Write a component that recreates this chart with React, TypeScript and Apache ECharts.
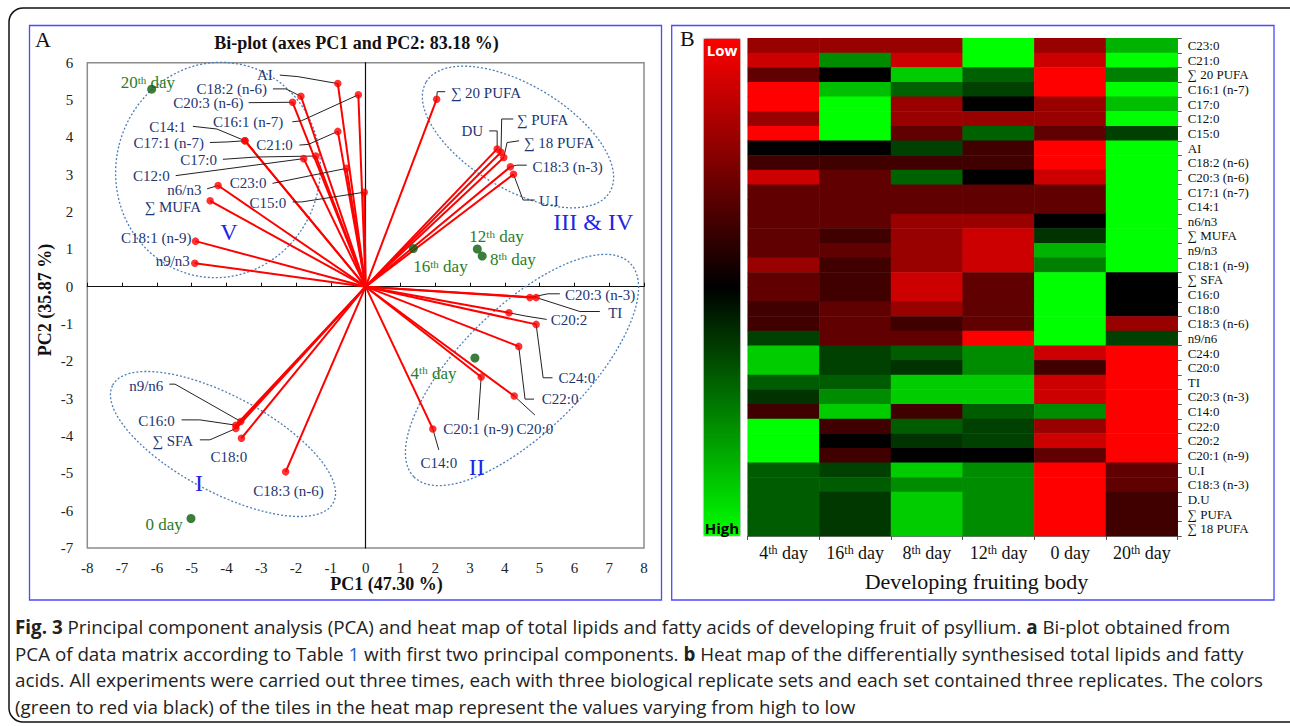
import React, { useEffect, useRef } from "react";
import * as echarts from "echarts";

// ---------- Panel A: PCA bi-plot ----------
const VAR_NAMES = ["AI", "C18:2 (n-6)", "C20:3 (n-6)", "C16:1 (n-7)", "C14:1", "C17:1 (n-7)", "C21:0", "C17:0", "C12:0", "C23:0", "n6/n3", "∑ MUFA", "C15:0", "C18:1 (n-9)", "n9/n3", "∑ 20 PUFA", "DU", "∑ PUFA", "∑ 18 PUFA", "C18:3 (n-3)", "U.I", "C20:3 (n-3)", "TI", "C20:2", "C24:0", "C22:0", "C20:1 (n-9)", "C20:0", "C14:0", "n9/n6", "C16:0", "∑ SFA", "C18:0", "C18:3 (n-6)"];
const PC1 = [-0.8, -1.86, -2.1, -0.21, -3.47, -3.47, -0.8, -1.43, -1.78, -0.55, -4.24, -4.47, -0.04, -4.89, -4.91, 2.04, 3.78, 3.89, 3.97, 4.16, 4.25, 4.72, 4.9, 4.12, 4.9, 4.4, 3.32, 4.27, 1.93, -3.59, -3.73, -3.73, -3.57, -2.3];
const PC2 = [5.44, 5.1, 4.94, 5.14, 3.91, 3.91, 4.16, 3.5, 3.43, 3.17, 2.71, 2.3, 2.53, 1.22, 0.63, 5.02, 3.69, 3.6, 3.46, 3.21, 3.01, -0.29, -0.29, -0.7, -1.01, -1.6, -2.42, -2.93, -3.81, -3.61, -3.71, -3.8, -4.06, -4.96];

const DAY_NAMES = ["20th day", "16th day", "12th day", "8th day", "4th day", "0 day"];
const DAY_PC1 = [-6.15, 1.37, 3.21, 3.35, 3.14, -5.02];
const DAY_PC2 = [5.29, 1.02, 1.01, 0.82, -1.91, -6.21];

const X_TICKS = { min: -8, max: 8, interval: 1 };
const Y_TICKS = { min: -7, max: 6, interval: 1 };

// label layout (pixel offsets from each point)
const LABEL_OFFSET: number[][] = [[-65, -8.5], [-34, -6.8], [-49, 1], [-75, 27], [-59, -14], [-41, 2.3], [-45, 13.7], [-99, 3.8], [-134, 17], [-80, 15], [-16.6, 4.3], [-9, 5.7], [-78, 10.4], [-4, -3], [-5, -2.6], [14, -6.6], [-14, -18], [15.7, -32.3], [20, -15], [22, 0], [25.6, 26.7], [35, -2.7], [72, 15], [41.7, 7.3], [22.4, 53.4], [23, 52.7], [-38, 52.3], [2.4, 33.3], [-12.3, 33.7], [-77.4, -35.3], [-61, -4.3], [-42.7, 12], [-12.6, 19], [-32.4, 18.7]];
const LABEL_ALIGN = ["right", "right", "right", "right", "right", "right", "right", "right", "right", "right", "right", "right", "right", "right", "right", "left", "right", "left", "left", "left", "left", "left", "left", "left", "left", "left", "left", "left", "left", "right", "right", "right", "center", "left"];
const LEADERS: number[][][] = [[[-58, -8.5], [-40, -7]], [[-28, -7.4], [-15, -7.4]], [[-44, 0.4]], [[-66, 27], [-57, 26]], [[-52, -14.4], [-28, -11.7]], [[-35, 1.8], [-17, 1.2]], [[-38.4, 13.7], [-29.4, 13]], [[-93, 3.3], [-60, 1]], [[-128, 17]], [[-74, 15]], [[-11, 3.3]], [], [[-71.6, 9.7], [-62.6, 9.7]], [], [], [[8.6, -7.6], [0.6, -7.6]], [[-8, -18], [0, -18]], [[12.3, -33.3], [0.7, -33.3]], [[15.3, -16.7], [3.3, -15]], [[16.4, -1.7], [6.4, -1.7]], [[21.3, 25.7], [9.6, 25.7]], [[30, -3.7], [18, -3.7]], [[63.7, 14], [43.7, 14]], [[37.7, 6.6], [17, 3.3]], [[16.4, 53.4], [7, 53.4]], [[15.3, 52.7], [6.3, 52.7]], [[-3, 43]], [[20.7, 19]], [[6, 21]], [[-71.4, -37.3], [-65.7, -37.3]], [[-54.3, -5.3], [-36, -5.3]], [[-36, 11.3], [-26, 11.3]], [], []];
const DAY_OFFSET: number[][] = [[-31, -6.6], [0, 18], [-8, -12.3], [7.7, 3.3], [-64.3, 15.3], [-8.3, 6.3]];
const DAY_ALIGN = ["left", "left", "left", "left", "left", "right"];

// ---------- Panel B: heat map ----------
const HM_COLS = ["4th day", "16th day", "8th day", "12th day", "0 day", "20th day"];
const HM_ROWS = ["C23:0", "C21:0", "∑ 20 PUFA", "C16:1 (n-7)", "C17:0", "C12:0", "C15:0", "AI", "C18:2 (n-6)", "C20:3 (n-6)", "C17:1 (n-7)", "C14:1", "n6/n3", "∑ MUFA", "n9/n3", "C18:1 (n-9)", "∑ SFA", "C16:0", "C18:0", "C18:3 (n-6)", "n9/n6", "C24:0", "C20:0", "TI", "C20:3 (n-3)", "C14:0", "C22:0", "C20:2", "C20:1 (n-9)", "U.I", "C18:3 (n-3)", "D.U", "∑ PUFA", "∑ 18 PUFA"];
// -1 = low (red), 0 = black, 1 = high (green)
const HM_VALUES: number[][] = [
  [-0.6, -0.6, -0.6, 1, -0.6, 0.7],
  [-0.8, 0.55, -0.8, 1, -0.8, 1],
  [-0.38, 0, 0.8, 0.38, -1, 0.5],
  [-1, 0.75, 0.38, 0.25, -1, 1],
  [-1, 1, -0.6, 0, -0.6, 0.75],
  [-0.6, 1, -0.6, -0.6, -0.6, 1],
  [-1, 1, -0.38, 0.38, -0.38, 0.25],
  [0, 0, 0.25, -0.25, -1, 1],
  [-0.25, -0.25, -0.25, -0.25, -1, 1],
  [-0.8, -0.38, 0.38, 0, -0.8, 1],
  [-0.38, -0.38, -0.38, -0.38, -0.38, 1],
  [-0.38, -0.38, -0.38, -0.38, -0.38, 1],
  [-0.38, -0.38, -0.6, -0.6, 0, 1],
  [-0.38, -0.25, -0.6, -0.8, 0.2, 1],
  [-0.38, -0.38, -0.6, -0.8, 0.7, 1],
  [-0.6, -0.25, -0.6, -0.8, 0.5, 1],
  [-0.38, -0.25, -0.8, -0.38, 1, 0],
  [-0.38, -0.25, -0.8, -0.38, 1, 0],
  [-0.25, -0.38, -0.6, -0.38, 1, 0],
  [-0.25, -0.38, -0.25, -0.38, 1, -0.6],
  [0.25, -0.38, -0.38, -1, 1, 0.25],
  [0.8, 0.25, 0.36, 0.55, -0.8, -1],
  [0.8, 0.25, 0.2, 0.55, -0.25, -1],
  [0.36, 0.36, 0.8, 0.8, -0.8, -1],
  [0.2, 0.55, 0.8, 0.8, -0.8, -1],
  [-0.25, 0.8, -0.25, 0.36, 0.55, -1],
  [1, -0.25, 0.36, 0.25, -0.6, -1],
  [1, 0, 0.2, 0.25, -0.8, -1],
  [1, -0.25, 0, 0, -0.38, -1],
  [0.36, 0.25, 0.8, 0.55, -1, -0.38],
  [0.36, 0.36, 0.55, 0.55, -1, -0.38],
  [0.36, 0.22, 0.8, 0.55, -1, -0.25],
  [0.36, 0.22, 0.8, 0.55, -1, -0.25],
  [0.36, 0.22, 0.8, 0.55, -1, -0.25],
];

const CAPTION_LINES = [
  "{b|Fig. 3} Principal component analysis (PCA) and heat map of total lipids and fatty acids of developing fruit of psyllium. {b|a} Bi-plot obtained from",
  "PCA of data matrix according to Table {l|1} with first two principal components. {b|b} Heat map of the differentially synthesised total lipids and fatty",
  "acids. All experiments were carried out three times, each with three biological replicate sets and each set contained three replicates. The colors",
  "(green to red via black) of the tiles in the heat map represent the values varying from high to low",
];

const SERIF = '"Liberation Serif", "Times New Roman", serif';
const SANS = '"Open Sans", sans-serif';
const NAVY = "#1d3672";
const GREEN_TXT = "#2a7d2a";
const CAP_SIZE = 18.8;

const richDay = (s: string) => {
  const m = s.match(/^(\d+)(th)?(.*)$/);
  if (!m) return s;
  return `{n|${m[1]}}` + (m[2] ? `{s|${m[2]}}` : "") + `{n|${m[3]}}`;
};

function buildOption() {
  const heatData: number[][] = [];
  HM_VALUES.forEach((row, r) => row.forEach((v, c) => heatData.push([c, r, v])));

  const ellipse = (x: number, y: number, rx: number, ry: number, rotation: number) => ({
    type: "ellipse", x, y, rotation, shape: { cx: 0, cy: 0, rx, ry },
    style: { fill: "none", stroke: "#4f7db5", lineWidth: 1.3, lineDash: [2, 2] }, z: 1,
  });
  const txt = (x: number, y: number, text: string, font: string, fill = "#111", align = "center", extra: any = {}) => ({
    type: "text", x, y, z: 10,
    style: { text, font, fill, align, verticalAlign: "middle" },
    ...extra,
  });

  return {
    animation: false,
    backgroundColor: "#ffffff",
    grid: [
      { left: 87.3, top: 62.7, width: 556.7, height: 485.3, show: true, borderColor: "#8c8c8c", borderWidth: 1.5, backgroundColor: "transparent" },
      { left: 747.7, top: 38.3, width: 430, height: 497.7 },
    ],
    xAxis: [
      { type: "value", gridIndex: 0, ...X_TICKS, axisLine: { show: false, onZero: false }, axisTick: { show: false }, splitLine: { show: false },
        axisLabel: { fontFamily: SERIF, fontSize: 15, color: "#222", margin: 12 } },
      { type: "value", gridIndex: 0, ...X_TICKS, axisLine: { show: true, onZero: true, lineStyle: { color: "#111", width: 1.2 } },
        axisTick: { show: true, length: 4, lineStyle: { color: "#111" } }, axisLabel: { show: false }, splitLine: { show: false } },
      { type: "category", gridIndex: 1, data: HM_COLS, position: "bottom",
        axisLine: { show: true, lineStyle: { color: "#777" } }, axisTick: { show: true, length: 4, interval: 0, lineStyle: { color: "#555" } },
        axisLabel: { margin: 8, interval: 0, formatter: (v: string) => richDay(v),
          rich: { n: { fontFamily: SERIF, fontSize: 18, color: "#111" }, s: { fontFamily: SERIF, fontSize: 12, color: "#111", verticalAlign: "top" } } },
        splitLine: { show: false } },
    ],
    yAxis: [
      { type: "value", gridIndex: 0, ...Y_TICKS, axisLine: { show: false, onZero: false }, axisTick: { show: false }, splitLine: { show: false },
        axisLabel: { fontFamily: SERIF, fontSize: 15, color: "#222", margin: 14 } },
      { type: "value", gridIndex: 0, ...Y_TICKS, axisLine: { show: true, onZero: true, lineStyle: { color: "#111", width: 1.2 } },
        axisTick: { show: false }, axisLabel: { show: false }, splitLine: { show: false } },
      { type: "category", gridIndex: 1, data: HM_ROWS, inverse: true, position: "right",
        axisLine: { show: true, lineStyle: { color: "#777" } }, axisTick: { show: true, length: 4, interval: 0, lineStyle: { color: "#555" } },
        axisLabel: { fontFamily: SERIF, fontSize: 13, color: "#111", margin: 10, interval: 0 }, splitLine: { show: false } },
    ],
    visualMap: {
      type: "continuous", min: -1, max: 1, seriesIndex: 5, inverse: true, calculable: false, orient: "vertical",
      left: 703.3, top: 38.3, itemWidth: 37.4, itemHeight: 498, padding: 0, text: null,
      inRange: { color: ["#ff0000", "#000000", "#00ff00"] },
    },
    series: [
      {
        type: "lines", coordinateSystem: "cartesian2d", xAxisIndex: 0, yAxisIndex: 0, silent: true, z: 2,
        lineStyle: { color: "#ff0000", width: 2, opacity: 1 },
        data: PC1.map((x, i) => ({ coords: [[0, 0], [x, PC2[i]]] })),
      },
      {
        type: "custom", coordinateSystem: "cartesian2d", xAxisIndex: 0, yAxisIndex: 0, silent: true, z: 3, clip: false,
        data: PC1.map((x, i) => [x, PC2[i]]),
        renderItem: (params: any, api: any) => {
          const i = params.dataIndex;
          const p = api.coord([api.value(0), api.value(1)]);
          const off = LABEL_OFFSET[i];
          const children: any[] = [];
          if (LEADERS[i].length) {
            const pts = [...LEADERS[i], [0, 0]].map((o) => [p[0] + o[0], p[1] + o[1]]);
            children.push({ type: "polyline", shape: { points: pts }, style: { stroke: "#222", lineWidth: 1, fill: "none" } });
          }
          children.push({ type: "text", x: p[0] + off[0], y: p[1] + off[1],
            style: { text: VAR_NAMES[i], align: LABEL_ALIGN[i], verticalAlign: "middle", fill: NAVY, font: `15px ${SERIF}` } });
          return { type: "group", children };
        },
      },
      {
        type: "scatter", xAxisIndex: 0, yAxisIndex: 0, silent: true, z: 4, symbolSize: 7.5,
        itemStyle: { color: "#ff0000" },
        data: PC1.map((x, i) => [x, PC2[i]]),
      },
      {
        type: "scatter", xAxisIndex: 0, yAxisIndex: 0, silent: true, z: 6, symbolSize: 9,
        itemStyle: { color: "#0b5d0b" },
        data: DAY_PC1.map((x, i) => [x, DAY_PC2[i]]),
      },
      {
        type: "custom", coordinateSystem: "cartesian2d", xAxisIndex: 0, yAxisIndex: 0, silent: true, z: 5, clip: false,
        data: DAY_PC1.map((x, i) => [x, DAY_PC2[i]]),
        renderItem: (params: any, api: any) => {
          const i = params.dataIndex;
          const p = api.coord([api.value(0), api.value(1)]);
          const off = DAY_OFFSET[i];
          return {
            type: "text", x: p[0] + off[0], y: p[1] + off[1],
            style: {
              text: richDay(DAY_NAMES[i]), align: DAY_ALIGN[i], verticalAlign: "middle",
              rich: {
                n: { fontFamily: SERIF, fontSize: 17, fill: GREEN_TXT },
                s: { fontFamily: SERIF, fontSize: 11, fill: GREEN_TXT, verticalAlign: "top" },
              },
            },
          };
        },
      },
      {
        type: "heatmap", xAxisIndex: 2, yAxisIndex: 2, silent: true, data: heatData,
        itemStyle: { borderWidth: 0 }, emphasis: { disabled: true },
      },
    ],
    graphic: [
      { type: "rect", shape: { x: 9, y: 8, width: 1300, height: 714, r: 14 }, style: { fill: "none", stroke: "#111", lineWidth: 1.5 }, z: 0 },
      { type: "rect", shape: { x: 29.5, y: 25.5, width: 632, height: 574.5 }, style: { fill: "none", stroke: "#4a4aff", lineWidth: 1.3 }, z: 0 },
      { type: "rect", shape: { x: 671.7, y: 25.5, width: 602.3, height: 574.5 }, style: { fill: "none", stroke: "#4a4aff", lineWidth: 1.3 }, z: 0 },
      { type: "rect", shape: { x: 703.3, y: 38.3, width: 37.4, height: 498 }, style: { fill: "none", stroke: "#c8c8c8", lineWidth: 0.8 }, z: 9 },
      ellipse(218, 170, 102, 108, -0.25),
      ellipse(518, 137, 107, 52, -0.54),
      ellipse(522, 370, 152, 62, 0.78),
      ellipse(223, 444, 125, 48, -0.49),
      txt(35, 39, "A", `22px ${SERIF}`, "#111", "left"),
      txt(680, 38, "B", `22px ${SERIF}`, "#111", "left"),
      txt(356.5, 43, "Bi-plot (axes PC1 and PC2: 83.18 %)", `bold 18px ${SERIF}`),
      txt(386.5, 584, "PC1 (47.30 %)", `bold 18px ${SERIF}`),
      txt(45, 300, "PC2 (35.87 %)", `bold 18px ${SERIF}`, "#111", "center", { rotation: Math.PI / 2 }),
      txt(229, 231.7, "V", `24px ${SERIF}`, "#2424e6"),
      txt(593.3, 221.7, "III & IV", `24px ${SERIF}`, "#2424e6"),
      txt(476.7, 467.3, "II", `24px ${SERIF}`, "#2424e6"),
      txt(199, 483.3, "I", `24px ${SERIF}`, "#2424e6"),
      txt(976.5, 581.7, "Developing fruiting body", `22px ${SERIF}`),
      txt(722, 50, "Low", `bold 15px ${SANS}`, "#ffffff"),
      txt(722, 528, "High", `bold 15px ${SANS}`, "#000000"),
      ...CAPTION_LINES.map((line, k) => ({
        type: "text", x: 15, y: 627 + k * 26.7, z: 10,
        style: {
          text: line, align: "left", verticalAlign: "middle", font: `${CAP_SIZE}px ${SANS}`, fill: "#222",
          rich: {
            b: { fontWeight: "bold", fontFamily: SANS, fontSize: CAP_SIZE, fill: "#222" },
            l: { fontFamily: SANS, fontSize: CAP_SIZE, fill: "#2a5fd0" },
          },
        },
      })),
    ],
  };
}

export default function App() {
  const ref = useRef<HTMLDivElement>(null);
  useEffect(() => {
    if (!ref.current) return;
    const chart = echarts.init(ref.current, null, { renderer: "svg" });
    chart.setOption(buildOption() as any);
    return () => chart.dispose();
  }, []);
  return <div ref={ref} style={{ position: "absolute", left: 0, top: 0, width: 1290, height: 726, background: "#fff" }} />;
}
